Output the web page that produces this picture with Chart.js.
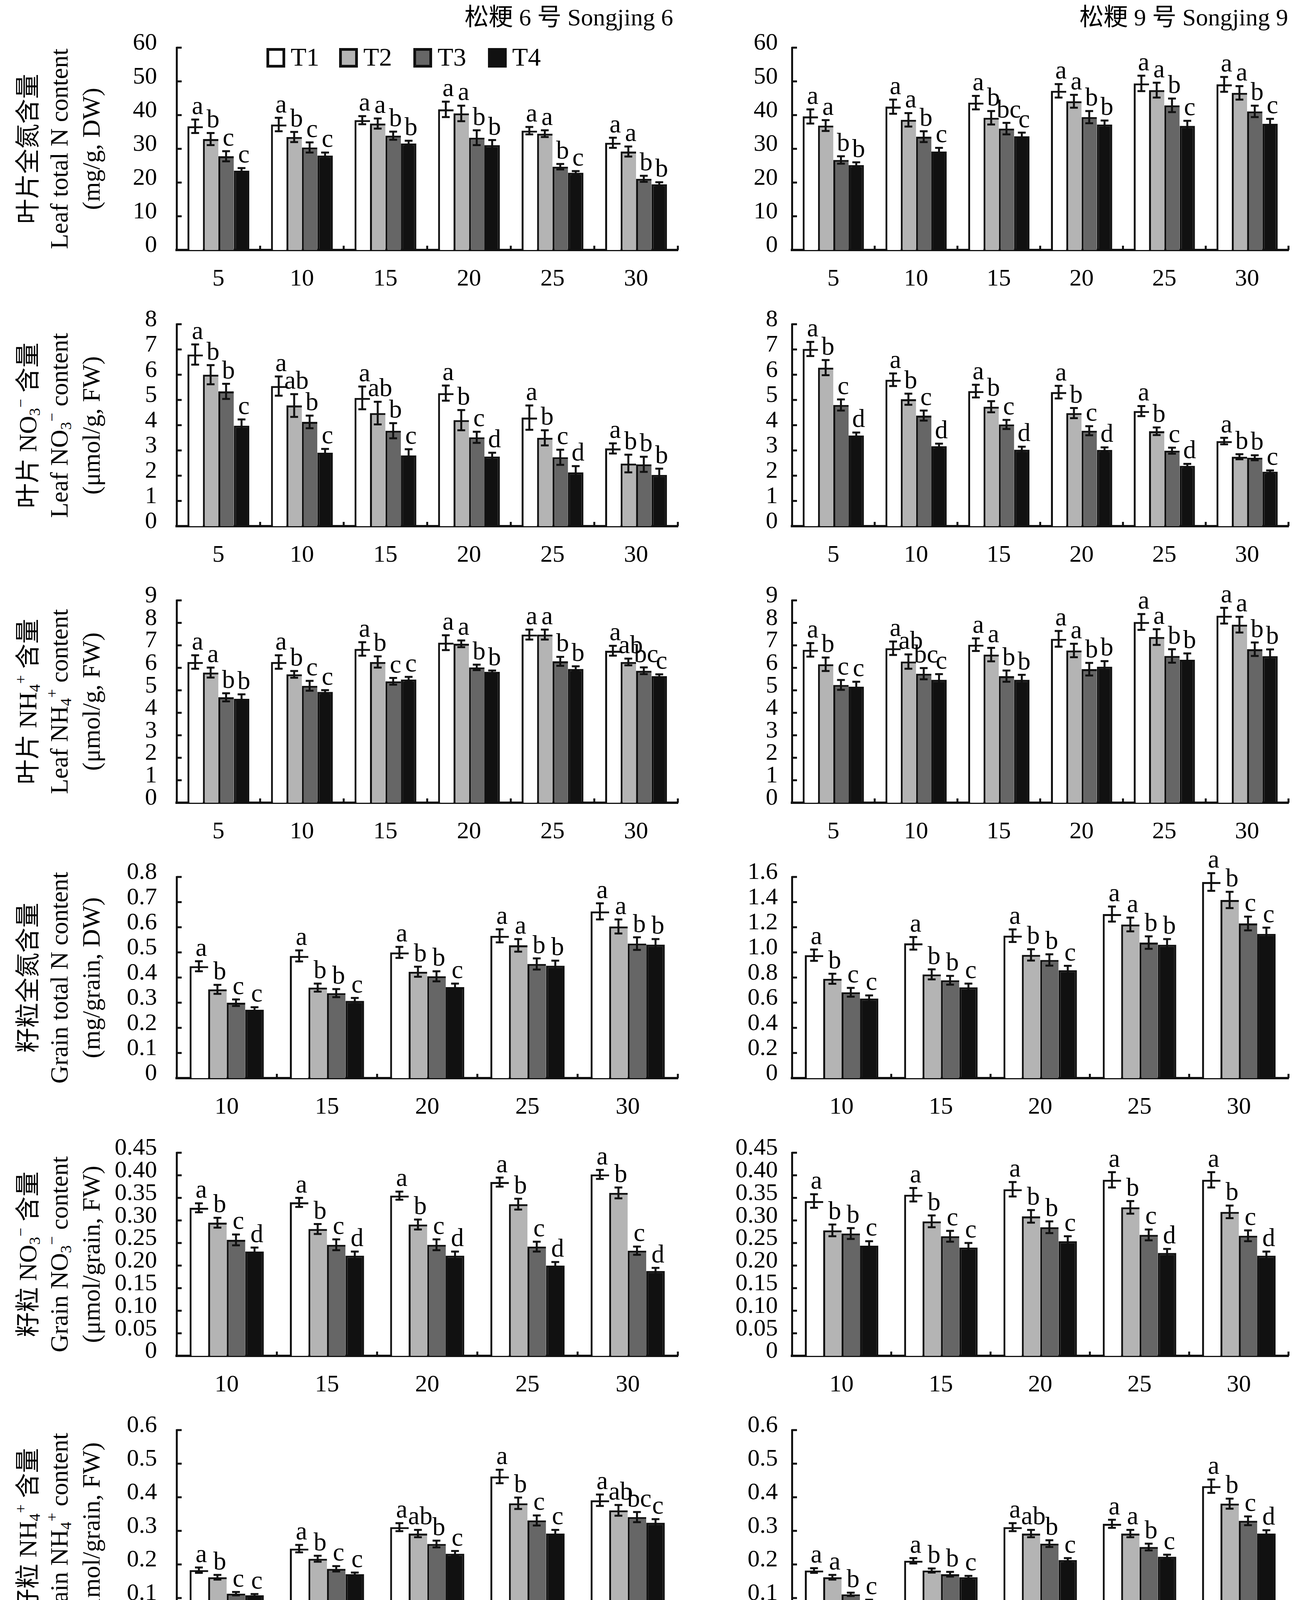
<!DOCTYPE html>
<html><head><meta charset="utf-8">
<script src="https://cdn.jsdelivr.net/npm/chart.js@4.4.0/dist/chart.umd.min.js"></script>
<style>
html,body{margin:0;padding:0;background:#fff;}
body{width:3307px;height:4398px;position:relative;overflow:hidden;font-family:"Liberation Serif","Times New Roman","Noto Sans CJK SC",serif;color:#000;}
.txt{position:absolute;white-space:nowrap;font-size:62px;line-height:72px;z-index:5;}
.yt{position:absolute;white-space:nowrap;font-size:64px;line-height:72px;height:72px;width:900px;text-align:center;transform:rotate(-90deg);transform-origin:50% 50%;z-index:5;}
.sb{font-size:40px;position:relative;top:9px;}
.sp{font-size:40px;position:relative;top:-27px;margin-left:1px;}
#charts{position:absolute;left:0;top:0;width:3307px;height:4398px;z-index:1;}
</style>
</head><body>
<div id="charts"></div>
<script>
// ---------------- categories / labels ----------------
const treatments = ['T1','T2','T3','T4'];
const daysLeaf  = ['5','10','15','20','25','30'];
const daysGrain = ['10','15','20','25','30'];

// ---------------- y tick labels ----------------
const yTicksLeafN    = ['0','10','20','30','40','50','60'];
const yTicksLeafNO3  = ['0','1','2','3','4','5','6','7','8'];
const yTicksLeafNH4  = ['0','1','2','3','4','5','6','7','8','9'];
const yTicksGrainN6  = ['0','0.1','0.2','0.3','0.4','0.5','0.6','0.7','0.8'];
const yTicksGrainN9  = ['0','0.2','0.4','0.6','0.8','1.0','1.2','1.4','1.6'];
const yTicksGrainNO3 = ['0','0.05','0.10','0.15','0.20','0.25','0.30','0.35','0.40','0.45'];
const yTicksGrainNH4 = ['0','0.1','0.2','0.3','0.4','0.5','0.6'];

// ---------------- Leaf total N (mg/g DW) ----------------
const leafN6_mean = [[36.7,37.2,38.5,41.7,35.4,31.8],[32.9,33.5,37.5,40.5,34.5,29.2],[27.8,30.4,33.9,33.3,24.7,21.1],[23.5,28.0,31.6,31.1,22.9,19.5]];
const leafN6_err  = [[2.0,2.0,1.2,2.3,1.1,1.5],[1.8,1.5,1.5,2.3,1.0,1.5],[1.5,1.5,1.2,2.2,0.8,0.9],[0.8,0.9,0.8,1.5,0.5,0.6]];
const leafN6_sig  = [['a','a','a','a','a','a'],['b','b','a','a','a','a'],['c','c','b','b','b','b'],['c','c','b','b','c','b']];

const leafN9_mean = [[39.6,42.5,43.7,47.2,49.4,49.1],[36.9,38.6,39.2,44.1,47.4,46.6],[26.7,33.6,36.0,39.4,42.9,41.1],[25.2,29.2,33.7,37.2,36.8,37.4]];
const leafN9_err  = [[2.1,2.1,2.0,2.0,2.3,2.2],[1.6,2.0,2.0,1.9,2.2,2.0],[1.1,1.6,1.7,1.8,2.0,1.7],[0.8,1.1,1.1,1.2,1.5,1.5]];
const leafN9_sig  = [['a','a','a','a','a','a'],['a','a','b','a','a','a'],['b','b','bc','b','b','b'],['b','c','c','b','c','c']];

// ---------------- Leaf NO3- (umol/g FW) ----------------
const leafNO3_6_mean = [[6.80,5.55,5.08,5.27,4.30,3.08],[6.00,4.78,4.48,4.20,3.50,2.48],[5.34,4.13,3.78,3.52,2.73,2.45],[3.98,2.91,2.80,2.76,2.13,2.03]];
const leafNO3_6_err  = [[0.40,0.38,0.45,0.30,0.48,0.20],[0.38,0.45,0.45,0.40,0.30,0.35],[0.30,0.25,0.30,0.22,0.30,0.30],[0.25,0.15,0.25,0.15,0.25,0.25]];
const leafNO3_6_sig  = [['a','a','a','a','a','a'],['b','ab','ab','b','b','b'],['b','b','b','c','c','b'],['c','c','c','d','d','b']];

const leafNO3_9_mean = [[7.02,5.80,5.35,5.31,4.56,3.37],[6.28,5.03,4.73,4.48,3.76,2.75],[4.80,4.38,4.03,3.78,2.99,2.71],[3.59,3.17,3.03,3.02,2.39,2.16]];
const leafNO3_9_err  = [[0.28,0.25,0.25,0.25,0.20,0.13],[0.30,0.22,0.22,0.20,0.15,0.10],[0.22,0.20,0.18,0.18,0.12,0.10],[0.12,0.10,0.12,0.10,0.08,0.05]];
const leafNO3_9_sig  = [['a','a','a','a','a','a'],['b','b','b','b','b','b'],['c','c','c','c','c','b'],['d','d','d','d','d','c']];

// ---------------- Leaf NH4+ (umol/g FW) ----------------
const leafNH4_6_mean = [[6.26,6.26,6.84,7.12,7.48,6.76],[5.79,5.71,6.26,7.07,7.48,6.26],[4.69,5.20,5.40,6.02,6.29,5.87],[4.62,4.93,5.48,5.82,5.95,5.63]];
const leafNH4_6_err  = [[0.30,0.30,0.30,0.33,0.22,0.22],[0.22,0.15,0.25,0.15,0.22,0.15],[0.18,0.22,0.15,0.12,0.20,0.15],[0.20,0.08,0.12,0.06,0.12,0.08]];
const leafNH4_6_sig  = [['a','a','a','a','a','a'],['a','b','b','a','a','ab'],['b','c','c','b','b','bc'],['b','c','c','b','b','c']];

const leafNH4_9_mean = [[6.80,6.87,7.03,7.29,8.04,8.32],[6.16,6.28,6.59,6.77,7.37,7.92],[5.24,5.74,5.63,5.94,6.53,6.83],[5.16,5.47,5.47,6.05,6.36,6.52]];
const leafNH4_9_err  = [[0.30,0.30,0.28,0.35,0.35,0.35],[0.30,0.32,0.30,0.30,0.35,0.35],[0.22,0.25,0.25,0.28,0.30,0.30],[0.22,0.25,0.22,0.25,0.28,0.30]];
const leafNH4_9_sig  = [['a','a','a','a','a','a'],['b','ab','a','a','a','a'],['c','bc','b','b','b','b'],['c','c','b','b','b','b']];

// ---------------- Grain total N (mg/grain DW) ----------------
const grainN6_mean = [[0.445,0.486,0.500,0.566,0.663],[0.353,0.360,0.423,0.528,0.603],[0.300,0.338,0.405,0.454,0.535],[0.272,0.307,0.362,0.447,0.531]];
const grainN6_err  = [[0.020,0.022,0.022,0.026,0.032],[0.018,0.016,0.020,0.025,0.028],[0.013,0.016,0.020,0.022,0.025],[0.010,0.012,0.014,0.020,0.022]];
const grainN6_sig  = [['a','a','a','a','a'],['b','b','b','a','a'],['c','b','b','b','b'],['c','c','c','b','b']];

const grainN9_mean = [[0.978,1.072,1.133,1.305,1.560],[0.790,0.825,0.980,1.222,1.417],[0.683,0.778,0.940,1.078,1.230],[0.633,0.722,0.858,1.061,1.147]];
const grainN9_err  = [[0.045,0.050,0.050,0.060,0.070],[0.040,0.040,0.045,0.055,0.065],[0.035,0.035,0.045,0.050,0.055],[0.025,0.030,0.035,0.045,0.050]];
const grainN9_sig  = [['a','a','a','a','a'],['b','b','b','a','b'],['c','b','b','b','c'],['c','c','c','b','c']];

// ---------------- Grain NO3- (umol/grain FW) ----------------
const grainNO3_6_mean = [[0.328,0.340,0.355,0.385,0.402],[0.295,0.281,0.291,0.336,0.361],[0.257,0.246,0.246,0.242,0.233],[0.231,0.222,0.222,0.200,0.188]];
const grainNO3_6_err  = [[0.010,0.010,0.009,0.010,0.010],[0.011,0.011,0.011,0.012,0.012],[0.012,0.012,0.012,0.011,0.009],[0.009,0.009,0.009,0.008,0.007]];
const grainNO3_6_sig  = [['a','a','a','a','a'],['b','b','b','b','b'],['c','c','c','c','c'],['d','d','d','d','d']];

const grainNO3_9_mean = [[0.343,0.357,0.369,0.390,0.390],[0.278,0.298,0.309,0.329,0.319],[0.271,0.265,0.285,0.268,0.266],[0.244,0.240,0.254,0.228,0.222]];
const grainNO3_9_err  = [[0.015,0.015,0.016,0.017,0.017],[0.013,0.013,0.014,0.014,0.014],[0.012,0.012,0.013,0.012,0.012],[0.010,0.010,0.011,0.009,0.009]];
const grainNO3_9_sig  = [['a','a','a','a','a'],['b','b','b','b','b'],['b','c','b','c','c'],['c','c','c','d','d']];

// ---------------- Grain NH4+ (umol/grain FW) ----------------
const grainNH4_6_mean = [[0.183,0.247,0.311,0.462,0.391],[0.162,0.217,0.292,0.382,0.361],[0.113,0.187,0.261,0.331,0.341],[0.108,0.171,0.232,0.292,0.324]];
const grainNH4_6_err  = [[0.008,0.011,0.012,0.020,0.017],[0.007,0.009,0.011,0.017,0.016],[0.005,0.008,0.010,0.015,0.015],[0.004,0.005,0.008,0.011,0.011]];
const grainNH4_6_sig  = [['a','a','a','a','a'],['b','b','ab','b','ab'],['c','c','b','c','bc'],['c','c','c','c','c']];

const grainNH4_9_mean = [[0.182,0.211,0.311,0.321,0.433],[0.162,0.182,0.292,0.292,0.381],[0.111,0.171,0.262,0.252,0.330],[0.092,0.162,0.213,0.223,0.292]];
const grainNH4_9_err  = [[0.007,0.008,0.012,0.012,0.020],[0.007,0.006,0.011,0.011,0.015],[0.005,0.007,0.010,0.010,0.013],[0.003,0.004,0.006,0.006,0.010]];
const grainNH4_9_sig  = [['a','a','a','a','a'],['a','b','ab','a','b'],['b','b','b','b','c'],['c','c','c','c','d']];

// ---------------- texts ----------------
const colTitles = ['松粳 6 号 Songjing 6','松粳 9 号 Songjing 9'];
const xTitle = '抽穗后天数 Days after earing (d)';
function ion(sub, sup){ return '<span class="sb">'+sub+'</span><span class="sp">'+sup+'</span>'; }
const yTitles = [
  ['叶片全氮含量','Leaf total N content','(mg/g, DW)'],
  ['叶片 NO'+ion('3','−')+' 含量','Leaf NO'+ion('3','−')+' content','(μmol/g, FW)'],
  ['叶片 NH'+ion('4','+')+' 含量','Leaf NH'+ion('4','+')+' content','(μmol/g, FW)'],
  ['籽粒全氮含量','Grain total N content','(mg/grain, DW)'],
  ['籽粒 NO'+ion('3','−')+' 含量','Grain NO'+ion('3','−')+' content','(μmol/grain, FW)'],
  ['籽粒 NH'+ion('4','+')+' 含量','Grain NH'+ion('4','+')+' content','(μmol/grain, FW)']
];

// ---------------- styles / layout ----------------
const fills = ['#ffffff','#b4b4b4','#666666','#111111'];
const COLS = [{plotL:452, plotR:1735, gap:50},{plotL:2027, plotR:3298, gap:36}];
const ROWS = [{top:122,bottom:640},{top:830,bottom:1347},{top:1537,bottom:2055},{top:2245,bottom:2760},{top:2951,bottom:3471},{top:3661,bottom:4177}];
const PADL=230, PADT=110, PADB=130, PADR=8;
const FONT='"Liberation Serif","Times New Roman",serif';
const legendOffsets=[230,416,606,797];

Chart.defaults.font.family = FONT;
Chart.defaults.color = '#000';

const deco = {
  id:'deco',
  afterDatasetsDraw(chart){
    const ctx=chart.ctx, ys=chart.scales.y;
    ctx.save();
    chart.data.datasets.forEach((ds,di)=>{
      const meta=chart.getDatasetMeta(di);
      meta.data.forEach((bar,i)=>{
        const v=ds.data[i], e=ds.err[i];
        const x=bar.x, yT=ys.getPixelForValue(v+e), yB=ys.getPixelForValue(v-e);
        ctx.strokeStyle='#111'; ctx.lineWidth=5; ctx.lineCap='butt';
        ctx.beginPath();
        ctx.moveTo(x,yT); ctx.lineTo(x,yB);
        ctx.moveTo(x-10,yT); ctx.lineTo(x+10,yT);
        ctx.moveTo(x-10,yB); ctx.lineTo(x+10,yB);
        ctx.stroke();
        ctx.fillStyle='#000'; ctx.font='66px '+FONT; ctx.textAlign='center'; ctx.textBaseline='alphabetic';
        ctx.fillText(ds.sig[i], x+6, yT-14);
      });
    });
    ctx.restore();
  },
  afterDraw(chart, args, opts){
    const ctx=chart.ctx, a=chart.chartArea, xs=chart.scales.x, ys=chart.scales.y;
    ctx.save();
    ctx.strokeStyle='#111'; ctx.lineWidth=5;
    ys.ticks.forEach((t,i)=>{
      const y=ys.getPixelForTick(i);
      ctx.beginPath(); ctx.moveTo(a.left,y); ctx.lineTo(a.left+13,y); ctx.stroke();
    });
    const n=chart.data.labels.length;
    const half=(xs.getPixelForValue(1)-xs.getPixelForValue(0))/2;
    for(let i=0;i<n;i++){
      const x=xs.getPixelForValue(i)+half;
      ctx.beginPath(); ctx.moveTo(x,a.bottom); ctx.lineTo(x,a.bottom-11); ctx.stroke();
    }
    if(opts && opts.legend){
      chart.data.datasets.forEach((ds,k)=>{
        const bx=a.left+legendOffsets[k], by=a.top+1;
        ctx.fillStyle=ds.backgroundColor; ctx.fillRect(bx,by,48,50);
        ctx.lineWidth=7; ctx.strokeStyle='#111'; ctx.strokeRect(bx+3.5,by+3.5,41,43);
        ctx.fillStyle='#000'; ctx.font='66px '+FONT; ctx.textAlign='left'; ctx.textBaseline='middle';
        ctx.fillText(ds.label, bx+62, by+28);
      });
    }
    ctx.restore();
  }
};

function makePanel(row,col,cats,mean,err,sig,yLabels,withLegend){
  const c=COLS[col], r=ROWS[row];
  const W=c.plotR-c.plotL+PADL+PADR, H=r.bottom-r.top+PADT+PADB;
  const div=document.createElement('div');
  div.style.cssText='position:absolute;left:'+(c.plotL-PADL)+'px;top:'+(r.top-PADT)+'px;width:'+W+'px;height:'+H+'px;';
  const cv=document.createElement('canvas');
  cv.width=W; cv.height=H; cv.style.width=W+'px'; cv.style.height=H+'px';
  div.appendChild(cv); document.getElementById('charts').appendChild(div);
  const step=parseFloat(yLabels[1]), yMax=parseFloat(yLabels[yLabels.length-1]);
  new Chart(cv,{
    type:'bar',
    data:{labels:cats, datasets:treatments.map((t,k)=>({
      label:t, data:mean[k], err:err[k], sig:sig[k],
      backgroundColor:fills[k], borderColor:'#111',
      borderWidth:{top:5,left:5,right:(k===3?5:0),bottom:0}, borderSkipped:'start',
      categoryPercentage:0.74, barPercentage:1.0
    }))},
    options:{
      responsive:false, animation:false, devicePixelRatio:1,
      layout:{padding:{top:PADT,right:PADR,left:0,bottom:0}},
      plugins:{legend:{display:false}, tooltip:{enabled:false}, deco:{legend:withLegend}},
      scales:{
        x:{z:1, grid:{display:false,drawTicks:false}, border:{display:true,color:'#111',width:6},
           ticks:{font:{size:62},color:'#000',padding:38,maxRotation:0,autoSkip:false},
           afterFit:s=>{s.height=PADB;}},
        y:{z:1, min:0, max:yMax, grid:{display:false,drawTicks:false}, border:{display:true,color:'#111',width:5},
           ticks:{stepSize:step,font:{size:62},color:'#000',padding:c.gap,labelOffset:-11,autoSkip:false,
                  callback:(v)=>yLabels[Math.round(v/step)]},
           afterFit:s=>{s.width=PADL;}}
      }
    },
    plugins:[deco]
  });
}

makePanel(0,0,daysLeaf,leafN6_mean,leafN6_err,leafN6_sig,yTicksLeafN,true);
makePanel(0,1,daysLeaf,leafN9_mean,leafN9_err,leafN9_sig,yTicksLeafN,false);
makePanel(1,0,daysLeaf,leafNO3_6_mean,leafNO3_6_err,leafNO3_6_sig,yTicksLeafNO3,false);
makePanel(1,1,daysLeaf,leafNO3_9_mean,leafNO3_9_err,leafNO3_9_sig,yTicksLeafNO3,false);
makePanel(2,0,daysLeaf,leafNH4_6_mean,leafNH4_6_err,leafNH4_6_sig,yTicksLeafNH4,false);
makePanel(2,1,daysLeaf,leafNH4_9_mean,leafNH4_9_err,leafNH4_9_sig,yTicksLeafNH4,false);
makePanel(3,0,daysGrain,grainN6_mean,grainN6_err,grainN6_sig,yTicksGrainN6,false);
makePanel(3,1,daysGrain,grainN9_mean,grainN9_err,grainN9_sig,yTicksGrainN9,false);
makePanel(4,0,daysGrain,grainNO3_6_mean,grainNO3_6_err,grainNO3_6_sig,yTicksGrainNO3,false);
makePanel(4,1,daysGrain,grainNO3_9_mean,grainNO3_9_err,grainNO3_9_sig,yTicksGrainNO3,false);
makePanel(5,0,daysGrain,grainNH4_6_mean,grainNH4_6_err,grainNH4_6_sig,yTicksGrainNH4,false);
makePanel(5,1,daysGrain,grainNH4_9_mean,grainNH4_9_err,grainNH4_9_sig,yTicksGrainNH4,false);

// ---------------- HTML texts ----------------
function addText(html, css, cls){
  const d=document.createElement('div'); d.className=cls||'txt'; d.innerHTML=html; d.style.cssText+=css; document.body.appendChild(d);
}
addText(colTitles[0], 'right:'+(3307-1723)+'px;top:8px;');
addText(colTitles[1], 'right:10px;top:8px;');
addText(xTitle, 'left:1277px;width:1200px;text-align:center;top:4326px;');
const yTitleX=[72,152,234];
ROWS.forEach((r,i)=>{
  const cy=(r.top+r.bottom)/2;
  yTitles[i].forEach((t,j)=>{
    addText(t, 'left:'+(yTitleX[j]-450)+'px;top:'+(cy-36)+'px;', 'yt');
  });
});
</script>
</body></html>
